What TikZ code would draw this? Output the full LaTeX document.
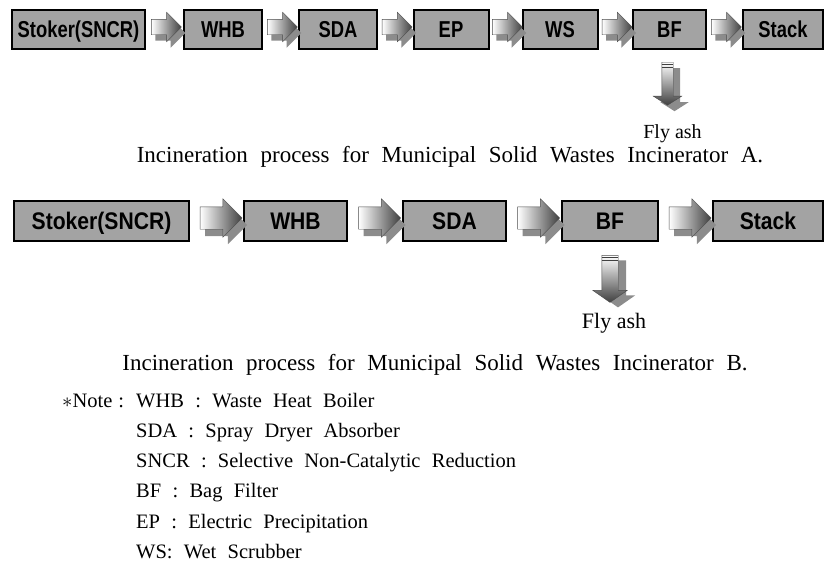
\documentclass[tikz,border=0pt]{standalone}
\usepackage{fontspec}
\setmainfont{Liberation Serif}
\newfontfamily\unitfont{Liberation Sans}
\usetikzlibrary{shapes.arrows,shadows}
\definecolor{unitgray}{RGB}{163,163,163}
\newcommand{\tagA}[1]{\scalebox{0.8}[1]{#1}}
\newcommand{\tagB}[1]{\scalebox{0.88}[1]{#1}}
\newcommand{\widewords}{\spaceskip=0.55em\relax}

\begin{document}
\begin{tikzpicture}[x=1pt,y=-1pt]
    \tikzstyle{every node}+=[inner sep=0pt]
    \tikzstyle{unitA}=[draw=black, line width=2pt, fill=unitgray, minimum height=39pt,
        text height=16.5pt, text depth=0pt, font=\unitfont\bfseries\fontsize{23}{23}\selectfont]
    \tikzstyle{unitB}=[draw=black, line width=2.4pt, fill=unitgray, minimum height=40pt,
        text height=17.2pt, text depth=0pt, font=\unitfont\bfseries\fontsize{24}{24}\selectfont]
    \tikzstyle{flowA}=[single arrow, draw=black!70, line width=0.4pt, minimum height=30pt,
        inner sep=7.5pt, single arrow head extend=7pt, left color=white, right color=black!75,
        drop shadow={shadow xshift=4pt, shadow yshift=-6pt, fill=black!45, opacity=1}]
    \tikzstyle{flowB}=[single arrow, draw=black!70, line width=0.4pt, minimum height=42pt,
        inner sep=11pt, single arrow head extend=8pt, left color=white, right color=black!75,
        drop shadow={shadow xshift=5pt, shadow yshift=-7pt, fill=black!45, opacity=1}]
    \tikzstyle{dropA}=[single arrow, shape border rotate=270, draw=black!70, line width=0.4pt,
        minimum height=43pt, inner sep=5.5pt, single arrow head extend=8.5pt,
        single arrow tip angle=115, top color=white, bottom color=black!75,
        drop shadow={shadow xshift=7pt, shadow yshift=-6pt, fill=black!45, opacity=1}]
    \tikzstyle{dropB}=[single arrow, shape border rotate=270, draw=black!70, line width=0.4pt,
        minimum height=47pt, inner sep=8pt, single arrow head extend=9pt,
        single arrow tip angle=110, top color=white, bottom color=black!75,
        drop shadow={shadow xshift=8pt, shadow yshift=-5pt, fill=black!45, opacity=1}]
    \tikzstyle{stripe}=[black!75, line width=1pt]
    \tikzstyle{caption}=[anchor=base, font=\fontsize{23}{23}\selectfont\widewords]
    \tikzstyle{note}=[anchor=base west, font=\fontsize{20.5}{20.5}\selectfont\widewords]
    \useasboundingbox (0,0) rectangle (826,563);

    % incinerator A
    \node [unitA, minimum width=133pt] (stokerA) at (78.5,29.5) {\tagA{Stoker(SNCR)}};
    \node [unitA, minimum width=78pt] (whbA) at (223,29.5) {\tagA{WHB}};
    \node [unitA, minimum width=78pt] (sdaA) at (338,29.5) {\tagA{SDA}};
    \node [unitA, minimum width=75pt] (epA) at (451,29.5) {\tagA{EP}};
    \node [unitA, minimum width=75pt] (wsA) at (560,29.5) {\tagA{WS}};
    \node [unitA, minimum width=73pt] (bfA) at (669.5,29.5) {\tagA{BF}};
    \node [unitA, minimum width=80pt] (stackA) at (783,29.5) {\tagA{Stack}};
    \path (stokerA.east) -- (whbA.west) node [flowA, midway, xshift=-2pt, yshift=2.5pt] (fa1) {};
    \path (whbA.east) -- (sdaA.west) node [flowA, midway, xshift=-2pt, yshift=2.5pt] (fa2) {};
    \path (sdaA.east) -- (epA.west) node [flowA, midway, xshift=-2pt, yshift=2.5pt] (fa3) {};
    \path (epA.east) -- (wsA.west) node [flowA, midway, xshift=-2pt, yshift=2.5pt] (fa4) {};
    \path (wsA.east) -- (bfA.west) node [flowA, midway, xshift=-2pt, yshift=2.5pt] (fa5) {};
    \path (bfA.east) -- (stackA.west) node [flowA, midway, xshift=-2pt, yshift=2.5pt] (fa6) {};
    \node [dropA, anchor=tail] (ashA) at ([xshift=-2pt, yshift=-12pt]bfA.south) {};
    \draw [stripe] ([yshift=-2pt]ashA.before tail) -- ([yshift=-2pt]ashA.after tail);
    \draw [stripe, line width=0.7pt] ([yshift=-5pt]ashA.before tail) -- ([yshift=-5pt]ashA.after tail);
    \node [anchor=base, font=\fontsize{20}{20}\selectfont] (flyA) at ([xshift=5pt, yshift=-33pt]ashA.tip) {Fly ash};
    \node [caption] (capA) at (450,162) {Incineration process for Municipal Solid Wastes Incinerator A.};

    % incinerator B
    \node [unitB, minimum width=175pt] (stokerB) at (101.5,221) {\tagB{Stoker(SNCR)}};
    \node [unitB, minimum width=103pt] (whbB) at (295.5,221) {\tagB{WHB}};
    \node [unitB, minimum width=103pt] (sdaB) at (454.5,221) {\tagB{SDA}};
    \node [unitB, minimum width=96pt] (bfB) at (610,221) {\tagB{BF}};
    \node [unitB, minimum width=110pt] (stackB) at (768,221) {\tagB{Stack}};
    \path (stokerB.east) -- (whbB.west) node [flowB, midway, xshift=-1pt, yshift=3pt] (fb1) {};
    \path (whbB.east) -- (sdaB.west) node [flowB, midway, xshift=-1pt, yshift=3pt] (fb2) {};
    \path (sdaB.east) -- (bfB.west) node [flowB, midway, xshift=-1pt, yshift=3pt] (fb3) {};
    \path (bfB.east) -- (stackB.west) node [flowB, midway, xshift=-1pt, yshift=3pt] (fb4) {};
    \node [dropB, anchor=tail] (ashB) at ([yshift=-13pt]bfB.south) {};
    \draw [stripe] ([yshift=-2pt]ashB.before tail) -- ([yshift=-2pt]ashB.after tail);
    \draw [stripe, line width=0.7pt] ([yshift=-5.5pt]ashB.before tail) -- ([yshift=-5.5pt]ashB.after tail);
    \node [anchor=base, font=\fontsize{22}{22}\selectfont] (flyB) at ([xshift=4pt, yshift=-26pt]ashB.tip) {Fly ash};
    \node [caption] (capB) at (435,370) {Incineration process for Municipal Solid Wastes Incinerator B.};

    % notes
    \node [note] (n1) at (62,407) {\makebox[74pt][l]{$\ast$Note\hspace{6pt}:}WHB : Waste Heat Boiler};
    \node [note] (n2) at (136,437.3) {SDA : Spray Dryer Absorber};
    \node [note] (n3) at (136,467.6) {SNCR : Selective Non-Catalytic Reduction};
    \node [note] (n4) at (136,497.9) {BF : Bag Filter};
    \node [note] (n5) at (136,528.2) {EP : Electric Precipitation};
    \node [note] (n6) at (136,558.5) {WS: Wet Scrubber};
\end{tikzpicture}
\end{document}
